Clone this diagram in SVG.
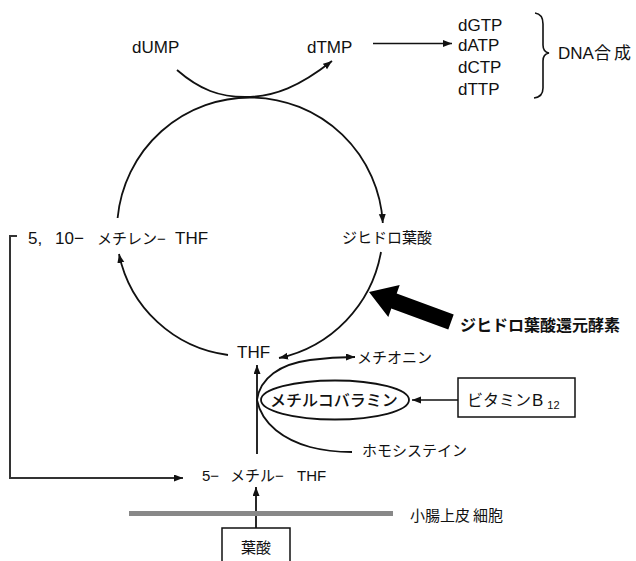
<svg xmlns="http://www.w3.org/2000/svg" width="636" height="561" viewBox="0 0 636 561">
<defs>
<style>
text{font-family:"Liberation Sans","Noto Sans CJK JP",sans-serif;fill:#111}
.l{font-size:17px}
.j{font-size:15px}
.b{font-weight:bold}
.ln{fill:none;stroke:#111;stroke-width:1.8}
.thin{fill:none;stroke:#111;stroke-width:1.5}
</style>
<marker id="ah" markerUnits="userSpaceOnUse" markerWidth="10" markerHeight="8" refX="9" refY="3.5" orient="auto">
<path d="M0,0 L9,3.5 L0,7 z" fill="#111"/>
</marker>
</defs>

<g id="connectors">
<path class="ln" d="M177,70 C200,90 220,97 245,97 C275,97 300,86 332,61" marker-end="url(#ah)"/>
<path class="ln" d="M117.6,218 A133,133 0 0 1 382.8,223" marker-end="url(#ah)"/>
<path class="ln" d="M381,252 A132,132 0 0 1 279,358" marker-end="url(#ah)"/>
<path class="ln" d="M228,355 A128,128 0 0 1 119,254" marker-end="url(#ah)"/>
<path class="thin" d="M373,43.5 L452,43.5" marker-end="url(#ah)"/>
<path class="ln" d="M257,454 L257,365" marker-end="url(#ah)"/>
<path class="ln" d="M257,400 C260,378 280,364 310,360 C325,358 340,357 355,357" marker-end="url(#ah)"/>
<path class="ln" d="M257,400 C262,425 285,440 310,447 C325,451 335,452 352,452"/>
<path class="thin" d="M458,400 L412,400" marker-end="url(#ah)"/>
<path class="ln" d="M256,528 L256,487" marker-end="url(#ah)"/>
<path d="M17,236 L10,236 L10,478 L183,478" fill="none" stroke="#333" stroke-width="2" marker-end="url(#ah)"/>
<polygon points="369,292 399.7,285 396.7,293.5 453.7,314.5 448.3,329.5 391.3,308.5 388.3,317" fill="#000"/>
<path d="M535,13 Q543,14 543,24 L543,45 Q543,52 549,53 Q543,54 543,61 L543,88 Q543,97 534,98" fill="none" stroke="#111" stroke-width="1.6"/>
</g>

<g id="dUMP"><text class="l" x="132" y="53">dUMP</text></g>
<g id="dTMP"><text class="l" x="307" y="53">dTMP</text></g>
<g id="dNTP">
<text class="l" x="458" y="31">dGTP</text>
<text class="l" x="458" y="51">dATP</text>
<text class="l" x="458" y="73">dCTP</text>
<text class="l" x="458" y="95">dTTP</text>
</g>
<g id="dna"><text class="l" x="558" y="59">DNA合<tspan dx="3">成</tspan></text></g>
<g id="methylene-thf"><text x="28" y="244"><tspan class="l">5,</tspan><tspan class="l" x="55">10−</tspan><tspan class="j" x="97">メチレン−</tspan><tspan class="l" x="175">THF</tspan></text></g>
<g id="dihydrofolate"><text class="j" x="342" y="243">ジヒドロ葉酸</text></g>
<g id="enzyme"><text class="b" font-size="16" x="460" y="331">ジヒドロ葉酸還元酵素</text></g>
<g id="thf"><text class="l" x="237" y="358">THF</text></g>
<g id="methionine"><text class="j" x="357" y="363">メチオニン</text></g>
<g id="methylcobalamin">
<ellipse cx="335" cy="400" rx="74" ry="19.5" class="ln"/>
<text font-size="16" x="270" y="406" style="font-weight:500">メチルコバラミン</text>
</g>
<g id="vitaminB12">
<rect x="458" y="378" width="117" height="39" fill="#fff" stroke="#111" stroke-width="1.5"/>
<text x="467" y="406"><tspan font-size="16">ビタミン</tspan><tspan class="l" dx="1">B</tspan><tspan font-size="11" dx="4" dy="3">12</tspan></text>
</g>
<g id="homocysteine"><text class="j" x="362" y="456">ホモシステイン</text></g>
<g id="methyl-thf"><text x="202" y="481"><tspan class="j">5−</tspan><tspan class="j" x="230">メチル−</tspan><tspan class="j" x="297">THF</tspan></text></g>
<g id="membrane">
<line x1="129" y1="513.5" x2="393" y2="513.5" stroke="#888" stroke-width="5"/>
<text class="j" x="410" y="521">小腸上皮<tspan dx="3">細胞</tspan></text>
</g>
<g id="folate">
<rect x="222" y="528" width="68" height="40" fill="#fff" stroke="#111" stroke-width="1.5"/>
<text class="j" x="241" y="553">葉酸</text>
</g>
</svg>
